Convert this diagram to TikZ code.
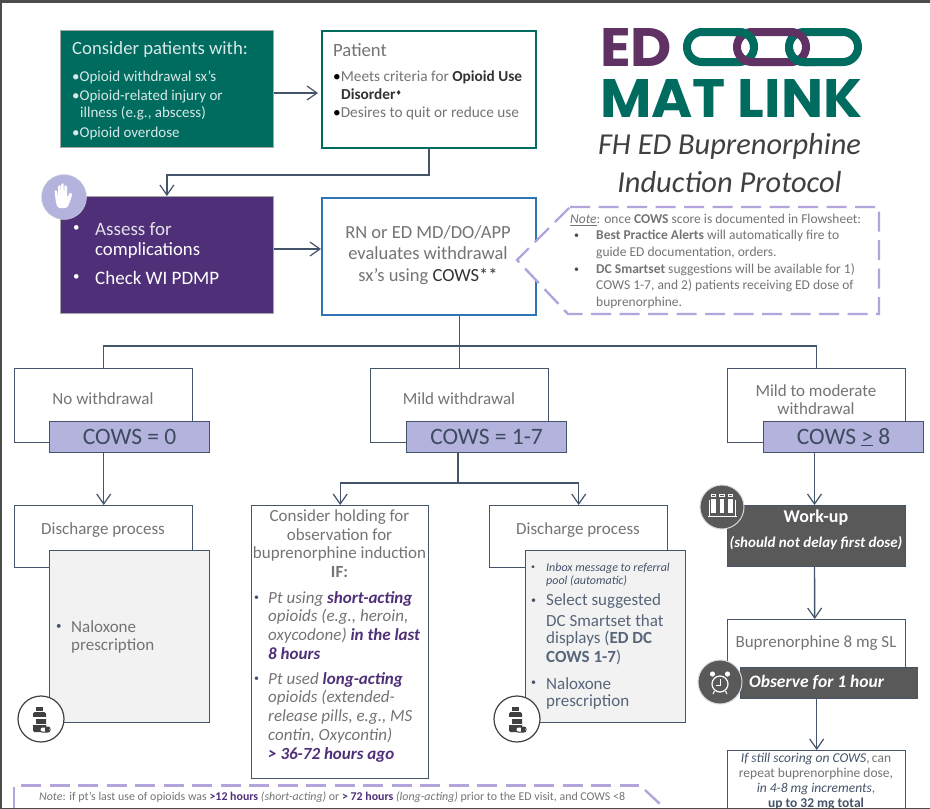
\documentclass[tikz,border=0pt]{standalone}
\usepackage{fontspec}
\setmainfont{Carlito}
\newfontfamily\logofont{Poppins}
\newfontfamily\symbolfont{DejaVu Sans}
\usetikzlibrary{arrows.meta}
\definecolor{edteal}{HTML}{006B5F}
\definecolor{edpurple}{HTML}{4F3078}
\definecolor{edplum}{HTML}{5F3263}
\definecolor{edslate}{HTML}{44546A}
\definecolor{edlav}{HTML}{B3B3DD}
\definecolor{eddash}{HTML}{B4A4DC}
\definecolor{edtext}{HTML}{747474}
\definecolor{eddark}{HTML}{595959}
\definecolor{edblue}{HTML}{2E75B6}
\tikzset{
  flowbox/.style={draw=edslate,line width=1.4pt,fill=white,minimum width=178pt,text=edtext,anchor=north west,inner sep=0pt,align=center},
  cowsbox/.style={draw=edslate,line width=1.2pt,fill=edlav,minimum width=160pt,minimum height=31pt,anchor=north west,inner sep=0pt,text=edslate!90!black,font=\fontsize{23.5}{25}\selectfont},
  greybox/.style={draw=edslate,line width=1.4pt,fill=black!5,minimum width=160pt,minimum height=172pt,anchor=north west,inner sep=0pt},
  darkbox/.style={draw=edslate,line width=1pt,fill=eddark,text=white,anchor=north west,inner sep=0pt,align=center},
  iconbox/.style={circle,minimum size=44pt,inner sep=0pt},
  txt/.style={anchor=west,inner sep=0pt,text=edtext,align=left},
  flowline/.style={draw=edslate,line width=1.4pt},
  flowarrow/.style={flowline,-{Straight Barb[length=10pt,width=14pt,line width=1.2pt]}},
  notedash/.style={draw=eddash,line width=2.4pt,dash pattern=on 20pt off 8.5pt},
  linkring/.style={line width=8pt,rounded corners=14.9pt}
}
\newcommand{\fs}[1]{\fontsize{#1}{#1}\selectfont}
\newcommand{\hl}[1]{\textcolor{edpurple}{\textbf{#1}}}
\begin{document}
\begin{tikzpicture}[x=1pt,y=-1pt]
\useasboundingbox (0,0) rectangle (930,809);
\fill[white] (0,0) rectangle (930,809);
% first row
\node[anchor=north west,minimum width=213pt,minimum height=117pt,fill=edteal,draw=black!35,line width=.8pt] (consider) at (60,30) {};
\node[anchor=north west,minimum width=214pt,minimum height=117pt,fill=white,draw=edteal,line width=1.8pt] (patient) at (321,30) {};
\node[txt,text=white!85!edteal,font=\fs{18.7}] at (72,50) {Consider patients with:};
\node[txt,text=white!85!edteal,font=\fs{15}] at (72,77) {•Opioid withdrawal sx's};
\node[txt,text=white!85!edteal,font=\fs{15}] at (72,97) {•Opioid-related injury or};
\node[txt,text=white!85!edteal,font=\fs{15}] at (80,113) {illness (e.g., abscess)};
\node[txt,text=white!85!edteal,font=\fs{15}] at (72,133) {•Opioid overdose};
\node[txt,font=\fs{18.7}] at (333,50) {Patient};
\node[txt,font=\fs{15.3}] at (333,77) {\textcolor{black}{•}Meets criteria for \textcolor{black!80}{\textbf{Opioid Use}}};
\node[txt,font=\fs{15.3}] at (341,94) {\textcolor{black!80}{\textbf{Disorder}\raisebox{4pt}{\symbolfont\fs{7}♦}}};
\node[txt,font=\fs{15.3}] at (333,113) {\textcolor{black}{•}Desires to quit or reduce use};
\draw[flowarrow,shorten >=3pt] (consider.east |- 0,93) -- (patient.west |- 0,93);
% second row
\node[anchor=north west,minimum width=213pt,minimum height=117pt,fill=edpurple,draw=black!35,line width=.8pt] (assess) at (60,196) {};
\node[anchor=north west,minimum width=214pt,minimum height=117pt,fill=white,draw=edblue,line width=1.8pt] (rn) at (321,197) {};
\draw[flowarrow] (patient.south) -- ++(0,26) -| (assess.north);
\node[iconbox,minimum size=45pt,fill=edlav,draw=black!15] (hand) at (64,197) {};
\fill[white,rounded corners=1.5pt] (56,203) -- (54.5,190) -- (57,190) -- (58,197) -- (58,185) -- (60.5,185) -- (61,196) -- (61,183) -- (63.5,183) -- (64,196) -- (64.5,185) -- (67,185) -- (67,198) -- (70,192) -- (72.5,194) -- (69,204) -- (67,208) -- (58,208) -- cycle;
\node[txt,text=white,font=\fs{13}] at (73,229) {•};
\node[txt,text=white!85!edpurple,font=\fs{19}] at (95,229.5) {Assess for};
\node[txt,text=white,font=\fs{18.7}] at (95,251) {complications};
\node[txt,text=white,font=\fs{13}] at (73,278) {•};
\node[txt,text=white,font=\fs{19}] at (95,278) {Check WI PDMP};
\node[font=\fs{18.5},text=edtext,align=center,inner sep=0pt] at (428,255) {RN or ED MD/DO/APP\\[3pt]evaluates withdrawal\\[3pt]sx's using \textcolor{black!80}{COWS**}};
\draw[flowarrow] (assess.east |- 0,249) -- (rn.west |- 0,249);
% logo
\node[anchor=west,inner sep=0pt,text=edplum] (edlogo) at (600,47) {\resizebox{72pt}{38pt}{\logofont\bfseries ED}};
\draw[edteal,linkring] (687,32) rectangle (754,62);
\draw[edteal,linkring] (789,32) rectangle (858,62);
\draw[edplum,linkring] (737,32) rectangle (806,62);
\begin{scope}
\clip (733,26) rectangle (765,46);
\draw[edteal,linkring] (687,32) rectangle (754,62);
\end{scope}
\begin{scope}
\clip (785,48) rectangle (815,68);
\draw[edteal,linkring] (789,32) rectangle (858,62);
\end{scope}
\node[anchor=west,inner sep=0pt,text=edteal] (matlink) at (600,98) {\resizebox{262pt}{38pt}{\logofont\bfseries MAT LINK}};
\node[font=\fs{30.4}\itshape,text=black!75,inner sep=0pt] (title1) at (729.5,146) {FH ED Buprenorphine};
\node[font=\fs{30.4}\itshape,text=black!75,inner sep=0pt] (title2) at (729.5,182) {Induction Protocol};
% note by the COWS box
\draw[notedash,fill=white] (570,207) -- (879,207) -- (879,314) -- (568,314) -- (517,260) -- cycle;
\node[txt,font=\fs{13.5}] at (570,220) {\underline{\textit{Note}}: once \textbf{COWS} score is documented in Flowsheet:};
\node[txt,font=\fs{10},text=black!70] at (574,236) {•};
\node[txt,font=\fs{13.5}] at (596,236) {\textbf{Best Practice Alerts} will automatically fire to};
\node[txt,font=\fs{13.5}] at (596,253) {guide ED documentation, orders.};
\node[txt,font=\fs{10},text=black!70] at (574,270) {•};
\node[txt,font=\fs{13.5}] at (596,270) {\textbf{DC Smartset} suggestions will be available for 1)};
\node[txt,font=\fs{13.5}] at (596,286) {COWS 1-7, and 2) patients receiving ED dose of};
\node[txt,font=\fs{13.5}] at (596,303) {buprenorphine.};
% split by score
\node[flowbox,minimum height=74pt] (none) at (14,368) {};
\node[flowbox,minimum height=74pt] (mild) at (370,368) {};
\node[flowbox,minimum height=74pt] (moderate) at (727,368) {};
\node[text=edtext,font=\fs{17},inner sep=0pt] at (103,398.5) {No withdrawal};
\node[text=edtext,font=\fs{17},inner sep=0pt] at (459,398.5) {Mild withdrawal};
\node[text=edtext,font=\fs{17},inner sep=0pt,align=center] at (816,400) {Mild to moderate\\[1pt]withdrawal};
\node[cowsbox] (cows0) at (49,421) {COWS = 0};
\node[cowsbox] (cows1) at (406,421) {COWS = 1-7};
\node[cowsbox] (cows8) at (763,421) {COWS \underline{>} 8};
\draw[flowline] (rn.south -| mild.north) -- (mild.north);
\draw[flowline] (none.north) -- ++(0,-22) -| (moderate.north);
% left column
\node[flowbox,minimum height=62pt] (discharge) at (14,505) {};
\node[text=edtext,font=\fs{17},inner sep=0pt] at (103,530) {Discharge process};
\node[greybox] (naloxone) at (49,550) {};
\node[txt,font=\fs{11},text=edslate] at (56,627) {•};
\node[txt,font=\fs{17}] at (71,627) {Naloxone};
\node[txt,font=\fs{17}] at (71,646) {prescription};
\node[iconbox,minimum size=46pt,fill=white,draw=black!75,line width=1.2pt] (pill) at (41,719) {};
\fill[black!75] (36,707) rectangle (43,711);
\fill[black!75,rounded corners=1.5pt] (33,712) rectangle (46,732);
\fill[white] (33,717) rectangle (46,725);
\fill[black!75] (36,718.5) rectangle (46,723.5);
\draw[black!75,fill=white,line width=1pt,rounded corners=2pt] (40,727) rectangle (50,732);
\fill[black!75] (45,727) rectangle (49,732);
\draw[flowarrow] (cows0.south -| discharge.north) -- (discharge.north);
% middle column
\node[flowbox,minimum width=177pt,minimum height=273pt] (holding) at (251,505) {};
\node[font=\fs{17},text=edtext,align=center,inner sep=0pt,anchor=north] at (339.5,509.5) {Consider holding for\\[1.6pt]observation for\\[1.6pt]buprenorphine induction\\[1.6pt]\textbf{IF:}};
\node[txt,font=\fs{10},text=edslate] at (254,598) {•};
\node[txt,font=\fs{17}\itshape] at (268,599) {Pt using \hl{short-acting}};
\node[txt,font=\fs{17}\itshape] at (268,617) {opioids (e.g., heroin,};
\node[txt,font=\fs{17}\itshape] at (268,635.5) {oxycodone) \hl{in the last}};
\node[txt,font=\fs{17}\itshape] at (268,654) {\hl{8 hours}};
\node[txt,font=\fs{10},text=edslate] at (254,679) {•};
\node[txt,font=\fs{17}\itshape] at (268,680) {Pt used \hl{long-acting}};
\node[txt,font=\fs{17}\itshape] at (268,698) {opioids (extended-};
\node[txt,font=\fs{17}\itshape] at (268,717) {release pills, e.g., MS};
\node[txt,font=\fs{17}\itshape] at (268,736) {contin, Oxycontin)};
\node[txt,font=\fs{17}\itshape] at (268,754.5) {\hl{> 36-72 hours ago}};
% discharge with referral
\node[flowbox,minimum height=62pt] (discharge2) at (489,505) {};
\node[text=edtext,font=\fs{17},inner sep=0pt] at (578,530) {Discharge process};
\node[greybox] (inbox) at (525,550) {};
\node[txt,font=\fs{8},text=edslate] at (531,568) {•};
\node[txt,font=\fs{12}\itshape,text=edslate] at (546,568) {Inbox message to referral};
\node[txt,font=\fs{12}\itshape,text=edslate] at (546,581) {pool (automatic)};
\node[txt,font=\fs{10},text=edslate] at (531,601) {•};
\node[txt,font=\fs{17},text=edslate!90] at (546,601.5) {Select suggested};
\node[txt,font=\fs{17},text=edslate!90] at (546,620.5) {DC Smartset that};
\node[txt,font=\fs{17},text=edslate!90] at (546,639) {displays (\textbf{ED DC}};
\node[txt,font=\fs{17},text=edslate!90] at (546,657.5) {\textbf{COWS 1-7})};
\node[txt,font=\fs{10},text=edslate] at (531,683) {•};
\node[txt,font=\fs{17},text=edslate!90] at (546,683.5) {Naloxone};
\node[txt,font=\fs{17},text=edslate!90] at (546,702) {prescription};
\node[iconbox,minimum size=46pt,fill=white,draw=black!75,line width=1.2pt] (pill2) at (517,719) {};
\fill[black!75] (512,707) rectangle (519,711);
\fill[black!75,rounded corners=1.5pt] (509,712) rectangle (522,732);
\fill[white] (509,717) rectangle (522,725);
\fill[black!75] (512,718.5) rectangle (522,723.5);
\draw[black!75,fill=white,line width=1pt,rounded corners=2pt] (516,727) rectangle (526,732);
\fill[black!75] (521,727) rectangle (525,732);
\coordinate (fork) at (458,483);
\draw[flowline] (cows1.south -| fork) -- (fork);
\draw[flowarrow] (fork) -| (holding.north);
\draw[flowarrow] (fork) -| (discharge2.north);
% right column
\node[darkbox,minimum width=178pt,minimum height=61pt] (workup) at (727,505) {};
\node[text=white,font=\fs{18}\bfseries,inner sep=0pt] at (816,518) {Work-up};
\node[text=white,font=\fs{15}\bfseries\itshape,inner sep=0pt] at (816,543) {(should not delay first dose)};
\node[iconbox,fill=eddark,draw=black!15,line width=1pt] (tubes) at (722,507) {};
\foreach \tx in {713.5,722,730.5}{
  \fill[white] (\tx-2.3,498.5) rectangle (\tx+2.3,513);
  \draw[white,line width=.8pt] (\tx-2.3,494.5) rectangle (\tx+2.3,496.8);
}
\draw[white,line width=.9pt] (708,516) -- (737,516) (709,500) -- (709,516) (735,500) -- (735,516);
\node[flowbox,minimum height=61pt] (bup) at (727,619) {};
\node[text=edtext,font=\fs{17},inner sep=0pt] at (816,643) {Buprenorphine 8 mg SL};
\node[darkbox,minimum width=177pt,minimum height=31pt] (observe) at (740,667) {};
\node[txt,text=white,font=\fs{17.5}\bfseries\itshape] at (749,682) {Observe for 1 hour};
\node[iconbox,fill=eddark,draw=black!15,line width=1pt] (alarm) at (720,682) {};
\draw[white,line width=1.2pt] (720,684) circle (8);
\draw[white,line width=.9pt] (720,679) -- (720,685) -- (716,685);
\fill[white] (712.5,674) circle (2.6) (727.5,674) circle (2.6);
\draw[white,line width=1.1pt] (714.5,691) -- (713,694) (725.5,691) -- (727,694);
\draw[flowarrow] ([xshift=-2pt]cows8.south -| workup.north) -- ([xshift=-2pt]workup.north);
\draw[flowarrow] ([xshift=-2pt]workup.south) -- ([xshift=-2pt]bup.north);
\node[flowbox,minimum height=80pt] (repeat) at (727,750) {};
\draw[flowarrow] (observe.south -| repeat.north) -- (repeat.north);
\node[font=\fs{13.5},text=edtext,align=center,inner sep=0pt,anchor=north] at (816,752.5) {\textit{\textcolor{edslate}{If still scoring on COWS}},\,can\\[1.6pt]repeat buprenorphine dose,\\[1.6pt]\textit{\textcolor{edslate}{in 4-8 mg increments}},\\[1.6pt]\textcolor{edslate}{\textbf{up to 32 mg total}}};
% note at the bottom
\draw[notedash] (21,785.5) -- (639,785.5);
\draw[notedash] (645,790) -- (660,804);
\draw[draw=eddash,line width=2.4pt] (14,787) -- (14,809);
\node[txt,font=\fs{11.9}] at (39,797) {\textit{Note}: if pt's last use of opioids was \hl{>12 hours} \textit{(short-acting)} or \hl{> 72 hours} \textit{(long-acting)} prior to the ED visit, and COWS <8};
% page edge
\fill[black!70] (0,0) rectangle (930,2.5);
\fill[black!70] (0,0) rectangle (2,809);
\fill[black!70] (0,807.5) rectangle (930,809);
\end{tikzpicture}
\end{document}
